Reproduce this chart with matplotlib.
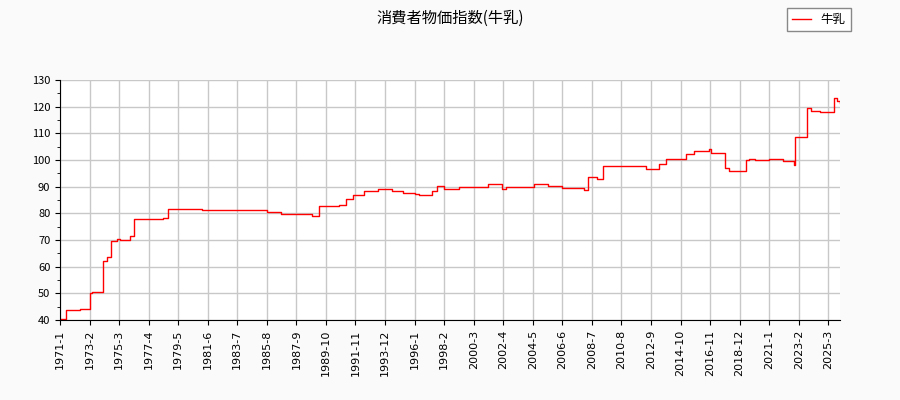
import matplotlib.pyplot as plt
from matplotlib.ticker import MultipleLocator

plt.rcParams['font.family'] = ['Noto Sans CJK JP', 'DejaVu Sans']

# step breakpoints: (year, month) and index level
break_months = [
    "1971-1", "1971-6", "1972-6", "1973-1", "1973-2", "1973-4", "1974-1", "1974-5",
    "1974-8", "1975-1", "1975-4", "1975-12", "1976-4", "1977-5", "1978-4", "1978-8",
    "1981-1", "1985-8", "1986-8", "1987-9", "1988-10", "1989-4", "1990-9", "1991-3",
    "1991-9", "1992-6", "1993-6", "1994-6", "1995-3", "1996-1", "1996-5", "1997-4",
    "1997-8", "1998-2", "1999-3", "2001-3", "2002-3", "2002-6", "2004-6", "2005-6",
    "2006-6", "2007-12", "2008-4", "2008-11", "2009-4", "2012-5", "2013-4", "2013-10",
    "2015-3", "2015-9", "2016-10", "2016-12", "2017-12", "2018-3", "2019-5", "2019-8",
    "2020-1", "2021-1", "2022-1", "2022-10", "2022-11", "2023-9", "2023-12", "2024-8",
    "2025-8", "2025-10", "2026-1",
]
break_values = [
    40.5, 43.7, 44.0, 44.3, 50.2, 50.5, 62.0, 63.5,
    69.5, 70.3, 70.0, 71.5, 78.0, 77.8, 78.2, 81.5,
    81.3, 80.5, 79.6, 79.8, 79.0, 82.8, 83.2, 85.5,
    87.0, 88.5, 89.0, 88.5, 87.8, 87.2, 86.8, 88.5,
    90.3, 89.0, 89.8, 91.0, 89.0, 90.0, 91.0, 90.2,
    89.5, 88.8, 93.5, 93.0, 97.8, 96.5, 98.5, 100.5,
    102.3, 103.5, 104.3, 102.8, 97.0, 95.8, 100.0, 100.5,
    100.0, 100.5, 99.5, 98.2, 108.8, 119.5, 118.5, 118.0,
    123.2, 122.0, 121.5,
]
tick_labels = [
    "1971-1", "1973-2", "1975-3", "1977-4", "1979-5", "1981-6", "1983-7", "1985-8",
    "1987-9", "1989-10", "1991-11", "1993-12", "1996-1", "1998-2", "2000-3", "2002-4",
    "2004-5", "2006-6", "2008-7", "2010-8", "2012-9", "2014-10", "2016-11", "2018-12",
    "2021-1", "2023-2", "2025-3",
]


def month_index(s):
    y, m = s.split("-")
    return (int(y) - 1971) * 12 + int(m) - 1


xs = [month_index(s) for s in break_months]

fig = plt.figure(figsize=(9, 4), dpi=100, facecolor="#fafafa")
ax = fig.add_axes([0.0667, 0.2, 0.8667, 0.6])
ax.step(xs, break_values, where="post", color="red", lw=1, label="牛乳")

ax.set_xlim(0, xs[-1])
ax.set_ylim(40, 130)
ax.set_xticks([month_index(s) for s in tick_labels])
ax.set_xticklabels(tick_labels, rotation=90, fontsize=8, family="DejaVu Sans")
ax.yaxis.set_major_locator(MultipleLocator(10))
ax.yaxis.set_minor_locator(MultipleLocator(5))
ax.tick_params(axis="y", labelsize=8)
ax.grid(True, color="#c8c8c8", lw=1)
ax.set_axisbelow(True)
for side in ("top", "right"):
    ax.spines[side].set_visible(False)

fig.text(0.5, 0.955, "消費者物価指数(牛乳)", ha="center", va="center", fontsize=11)
fig.legend(loc="upper right", bbox_to_anchor=(0.952, 0.995), fontsize=9,
           fancybox=False, edgecolor="#888888", framealpha=1, handlelength=1.5)

fig.savefig("out.png")
